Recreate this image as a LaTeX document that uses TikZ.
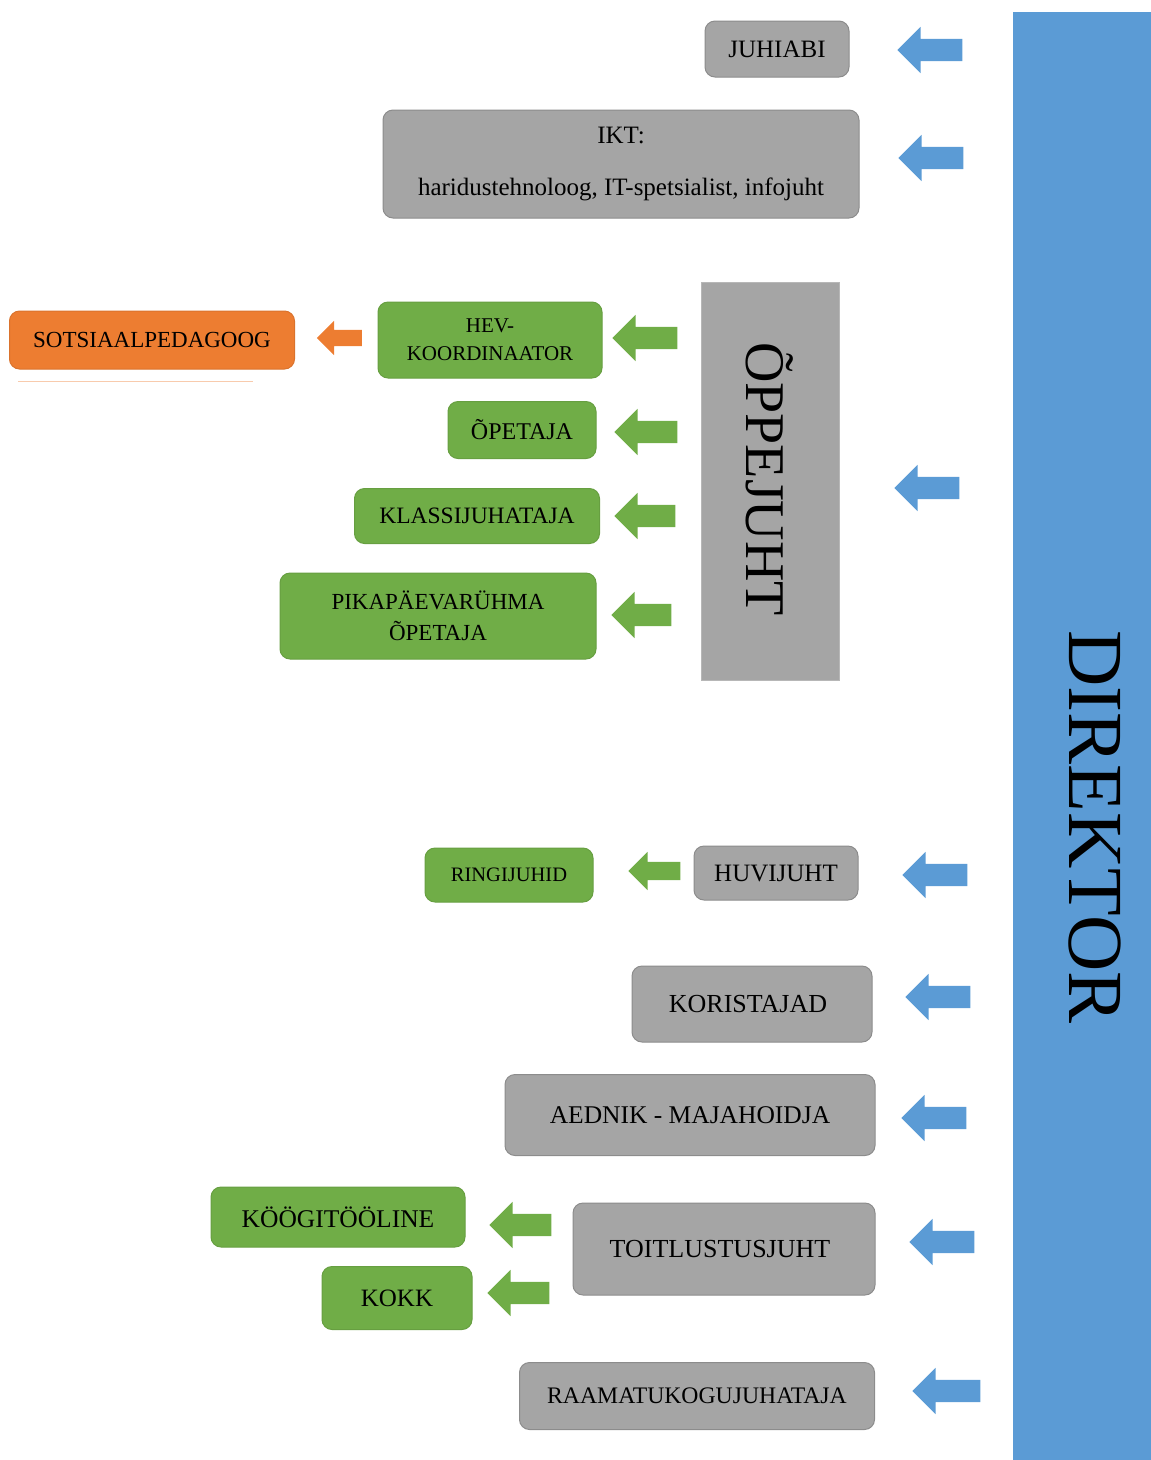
\documentclass[tikz,border=0pt]{standalone}
\usepackage{fontspec}
\setmainfont{Liberation Serif}
\usetikzlibrary{shapes.arrows}
\definecolor{dirblue}{HTML}{5B9BD5}
\definecolor{boxgray}{HTML}{A5A5A5}
\definecolor{boxgreen}{HTML}{70AD47}
\definecolor{boxorange}{HTML}{ED7D31}
\definecolor{lineorange}{HTML}{F8CBAD}
\begin{document}
\begin{tikzpicture}[x=1pt,y=-1pt,
  box/.style={rounded corners=10pt,inner sep=0pt,align=center,text=black,line width=1pt},
  graybox/.style={box,fill=boxgray,draw=boxgray!85!black},
  greenbox/.style={box,fill=boxgreen,draw=boxgreen!92!black},
  orangebox/.style={box,fill=boxorange,draw=boxorange!92!black},
  blockarrow/.style={single arrow,shape border rotate=180,inner xsep=0pt,inner ysep=11pt,xshift=5pt,
    minimum height=65pt,single arrow head extend=12pt,single arrow head indent=0pt},
  bluearrow/.style={blockarrow,fill=dirblue},
  greenarrow/.style={blockarrow,fill=boxgreen},
  fs/.style={font=\fontsize{#1}{#1}\selectfont}]
\useasboundingbox (0,0) rectangle (1151,1460);
% Drawing the two columns
% Column 1: DIREKTOR
\node[fill=dirblue,minimum width=138pt,minimum height=1448pt,inner sep=0pt] (direktor) at (1082,736) {};
\node[rotate=-90,fs=78] (direktorlbl) at (1095,827) {DIREKTOR};
% Column 2: OPPEJUHT
\node[fill=boxgray,draw=boxgray!80!white,rotate=-90,minimum width=398pt,minimum height=138pt,
  inner sep=0pt,fs=56] (oppejuht) at (770,481) {\hspace*{-4pt}ÕPPEJUHT};
% Done with columns; drawing gray boxes
\node[graybox,minimum width=144pt,minimum height=56pt,fs=25] (juhiabi) at (777,49) {JUHIABI};
\node[graybox,minimum width=476pt,minimum height=108pt,font=\fontsize{25}{52}\selectfont] (ikt) at (621,164)
  {IKT:\\haridustehnoloog, IT-spetsialist, infojuht};
\node[graybox,minimum width=164pt,minimum height=54pt,fs=25] (huvijuht) at (776,873) {HUVIJUHT};
\node[graybox,minimum width=240pt,minimum height=76pt,fs=26] (koristajad) at (752,1004) {\hspace*{-8pt}KORISTAJAD};
\node[graybox,minimum width=370pt,minimum height=81pt,fs=25.5] (aednik) at (690,1115) {AEDNIK - MAJAHOIDJA};
\node[graybox,minimum width=302pt,minimum height=92pt,fs=26] (toitlustus) at (724,1249) {\hspace*{-8pt}TOITLUSTUSJUHT};
\node[graybox,minimum width=355pt,minimum height=67pt,fs=23.7] (raamatukogu) at (697,1396) {RAAMATUKOGUJUHATAJA};
% Done with gray boxes; drawing green and orange boxes
\node[greenbox,minimum width=224pt,minimum height=76pt,font=\fontsize{21}{28}\selectfont] (hev) at (490,340) {HEV-\\KOORDINAATOR};
\node[greenbox,minimum width=148pt,minimum height=57pt,fs=24] (opetaja) at (522,430) {ÕPETAJA};
\node[greenbox,minimum width=245pt,minimum height=55pt,fs=23.5] (klassijuh) at (477,516) {KLASSIJUHATAJA};
\node[greenbox,minimum width=316pt,minimum height=86pt,font=\fontsize{23}{31}\selectfont] (pikapaev) at (438,616) {PIKAPÄEVARÜHMA\\ÕPETAJA};
\node[greenbox,minimum width=168pt,minimum height=54pt,fs=20.5] (ringijuhid) at (509,875) {RINGIJUHID};
\node[greenbox,minimum width=254pt,minimum height=60pt,fs=25.5] (kooktool) at (338,1217) {KÖÖGITÖÖLINE};
\node[greenbox,minimum width=150pt,minimum height=63pt,fs=25] (kokk) at (397,1298) {KOKK};
\node[orangebox,minimum width=285pt,minimum height=58pt,fs=23] (sotsped) at (152,340) {SOTSIAALPEDAGOOG};
\coordinate (sotslineA) at (18,381);
\coordinate (sotslineB) at (253,381);
\draw[lineorange,line width=1pt] (sotslineA) -- (sotslineB);
% Done with boxes; drawing block arrows
% Blue arrows from DIREKTOR
\node[bluearrow] (arrjuhiabi) at (930.5,50) {};
\node[bluearrow] (arrikt) at (931.5,158) {};
\node[bluearrow] (arroppejuht) at (927.5,488) {};
\node[bluearrow] (arrhuvijuht) at (935.5,875) {};
\node[bluearrow] (arrkoristajad) at (938.5,997) {};
\node[bluearrow] (arraednik) at (934.5,1118) {};
\node[bluearrow] (arrtoitlustus) at (942.5,1242) {};
\node[bluearrow,minimum height=68pt] (arrraamatukogu) at (947,1391) {};
% Green arrows
\node[greenarrow] (arrhev) at (645.5,338) {};
\node[greenarrow,minimum height=63pt] (arropetaja) at (646.5,432) {};
\node[greenarrow,minimum height=61pt] (arrklassijuh) at (645.5,516) {};
\node[greenarrow,minimum height=60pt] (arrpikapaev) at (642,615) {};
\node[greenarrow,minimum height=52pt,inner ysep=9pt,single arrow head extend=10pt] (arrringijuhid) at (654,871) {};
\node[greenarrow,minimum height=62pt] (arrkooktool) at (521,1225) {};
\node[greenarrow,minimum height=62pt] (arrkokk) at (519,1293) {};
% Orange arrow
\node[blockarrow,fill=boxorange,minimum height=45pt,inner ysep=8pt,single arrow head extend=9pt,xshift=-1pt] (arrsotsped) at (339.5,338) {};
% Done with arrows
\end{tikzpicture}
\end{document}
